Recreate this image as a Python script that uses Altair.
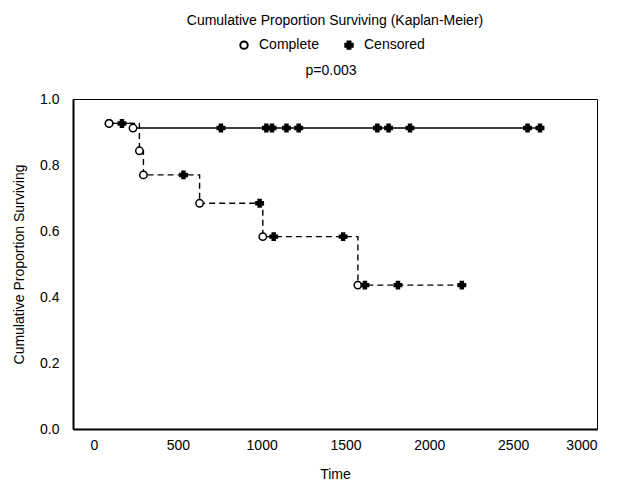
import altair as alt
import pandas as pd

# Group 1 (solid line)
g1_time = [90, 167, 233, 757, 1028, 1062, 1148, 1221, 1690, 1757, 1885, 2586, 2660]
g1_surv = [0.926, 0.926, 0.912, 0.912, 0.912, 0.912, 0.912, 0.912, 0.912, 0.912, 0.912, 0.912, 0.912]
g1_status = ["Complete", "Censored", "Complete", "Censored", "Censored", "Censored", "Censored",
             "Censored", "Censored", "Censored", "Censored", "Censored", "Censored"]

# Group 2 (dashed line)
g2_time = [90, 271, 295, 534, 630, 988, 1007, 1072, 1486, 1574, 1616, 1813, 2194]
g2_surv = [0.926, 0.843, 0.770, 0.770, 0.684, 0.684, 0.583, 0.583, 0.583, 0.436, 0.436, 0.436, 0.436]
g2_status = ["Complete", "Complete", "Complete", "Censored", "Complete", "Censored", "Complete",
             "Censored", "Censored", "Complete", "Censored", "Censored", "Censored"]

x_ticks = [0, 500, 1000, 1500, 2000, 2500, 3000]
y_ticks = [0.0, 0.2, 0.4, 0.6, 0.8, 1.0]

df = pd.concat([
    pd.DataFrame({"Time": g1_time, "Surv": g1_surv, "Status": g1_status, "Group": "1"}),
    pd.DataFrame({"Time": g2_time, "Surv": g2_surv, "Status": g2_status, "Group": "2"}),
], ignore_index=True)

FONT = "Liberation Sans"

x = alt.X("Time:Q", scale=alt.Scale(domain=[-125, 3000], nice=False, zero=False),
          axis=alt.Axis(values=x_ticks, format="d", title="Time", grid=False, ticks=False,
                        labelPadding=9, titlePadding=15, domainWidth=2))
y = alt.Y("Surv:Q", scale=alt.Scale(domain=[0, 1], nice=False),
          axis=alt.Axis(values=y_ticks, format=".1f", title="Cumulative Proportion Surviving",
                        grid=False, ticks=False, labelPadding=14, titlePadding=13, domainWidth=2))

base = alt.Chart(df)

line1 = base.transform_filter(alt.datum.Group == "1").mark_line(
    interpolate="step-after", color="black", strokeWidth=1.4
).encode(x=x, y=y)

line2 = base.transform_filter(alt.datum.Group == "2").mark_line(
    interpolate="step-after", color="black", strokeWidth=1.4, strokeDash=[6, 4]
).encode(x=x, y=y)

points = base.mark_point(stroke="black", fill="white", strokeWidth=1.5, opacity=1, size=55).encode(
    x=x, y=y,
    shape=alt.Shape("Status:N", scale=alt.Scale(domain=["Complete", "Censored"], range=["circle", "cross"]),
                    legend=alt.Legend(title="p=0.003", titleOrient="bottom", titleAnchor="middle",
                                      titleFont=FONT, titleFontSize=14, titleFontWeight="normal",
                                      titleColor="black", titlePadding=11,
                                      orient="none", direction="horizontal",
                                      legendX=164, legendY=-61, labelFontSize=14, labelFont=FONT,
                                      labelColor="black",
                                      symbolSize=55, symbolStrokeWidth=2, columnPadding=22,
                                      labelOffset=8, symbolStrokeColor="black",
                                      symbolFillColor="white", symbolOpacity=1)),
    fill=alt.Fill("Status:N", scale=alt.Scale(domain=["Complete", "Censored"], range=["white", "black"]),
                  legend=None),
)

chart = alt.layer(line1, line2, points).properties(
    width=524, height=330,
    autosize=alt.AutoSizeParams(type="none"),
    padding={"left": 73, "top": 99, "right": 29, "bottom": 54},
    title=alt.TitleParams(
        text="Cumulative Proportion Surviving (Kaplan-Meier)",
        font=FONT, fontSize=14, fontWeight="normal", anchor="middle", offset=10,
        color="black", frame="group",
    ),
).configure_view(stroke="black", strokeWidth=1).configure_axis(
    labelFont=FONT, titleFont=FONT, labelFontSize=14, titleFontSize=14,
    titleFontWeight="normal", labelColor="black", titleColor="black", domainColor="black",
)

chart.save("out.html", embed_options={"renderer": "svg", "actions": False})
